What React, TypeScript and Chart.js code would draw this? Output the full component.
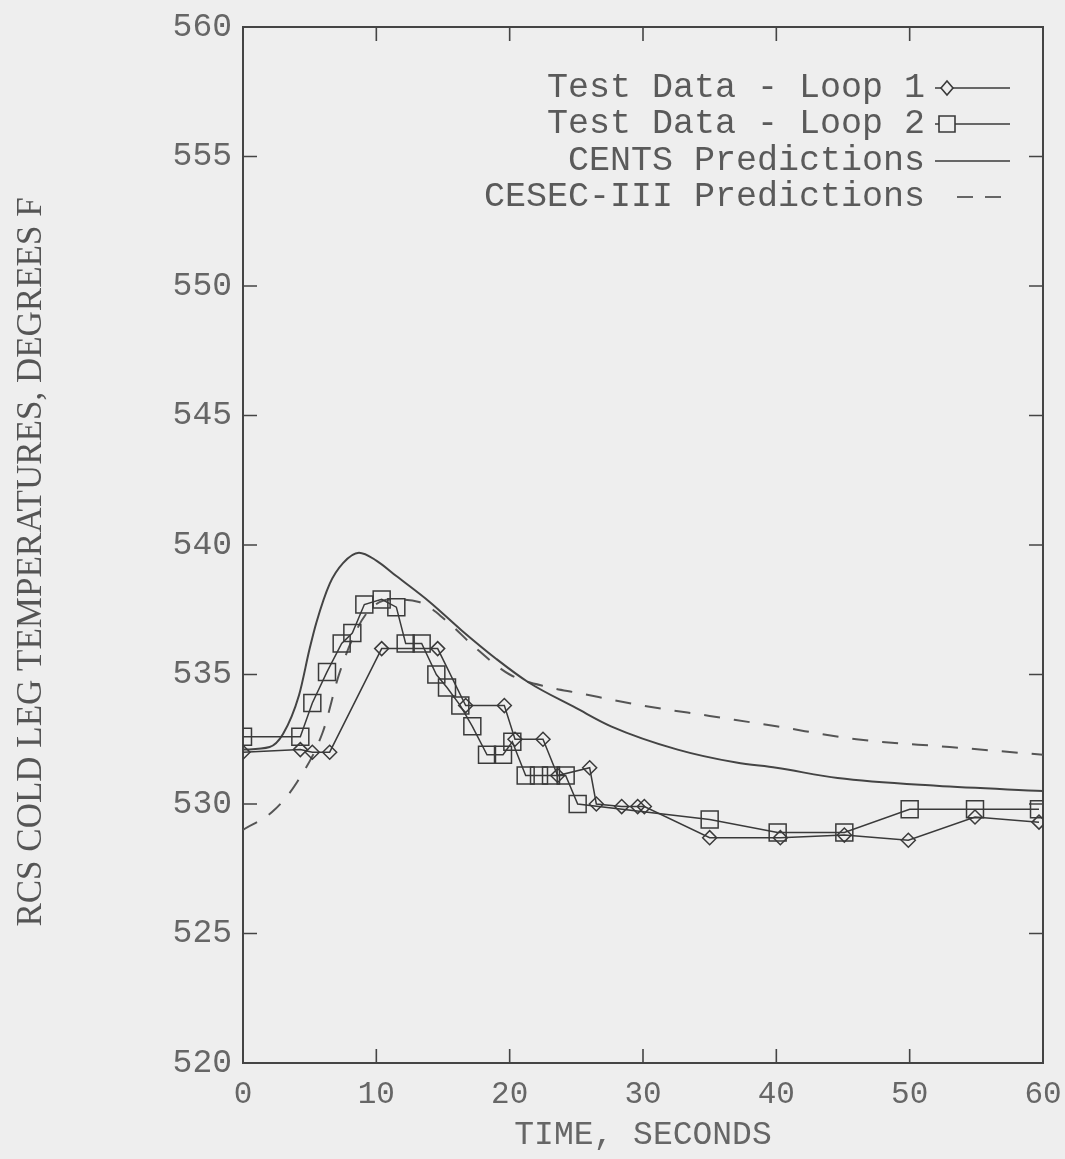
import React, { useEffect, useRef } from "react";
import { Chart, registerables } from "chart.js";

Chart.register(...registerables);

// ---- Data ----
const loop1Time = [0, 4.3, 5.2, 6.5, 10.4, 14.6, 16.7, 19.6, 20.4, 22.5, 23.6, 26.0, 26.5, 28.4, 29.6, 30.1, 35.0, 40.3, 45.1, 49.9, 54.9, 59.7];
const loop1Temp = [532.0, 532.1, 532.0, 532.0, 536.0, 536.0, 533.8, 533.8, 532.5, 532.5, 531.1, 531.4, 530.0, 529.9, 529.9, 529.9, 528.7, 528.7, 528.8, 528.6, 529.5, 529.3];

const loop2Time = [0, 4.3, 5.2, 6.3, 7.4, 8.2, 9.1, 10.4, 11.5, 12.2, 13.4, 14.5, 15.3, 16.3, 17.2, 18.3, 19.5, 20.2, 21.2, 22.2, 23.1, 24.2, 25.1, 35.0, 40.1, 45.1, 50.0, 54.9, 59.7];
const loop2Temp = [532.6, 532.6, 533.9, 535.1, 536.2, 536.6, 537.7, 537.9, 537.6, 536.2, 536.2, 535.0, 534.5, 533.8, 533.0, 531.9, 531.9, 532.4, 531.1, 531.1, 531.1, 531.1, 530.0, 529.4, 528.9, 528.9, 529.8, 529.8, 529.8];

const centsTime = [0, 2, 3, 4.2, 5, 5.5, 6.5, 7.5, 8.7, 10, 11.5, 14, 16.4, 19, 21.4, 25, 27.6, 32.6, 37, 40, 44.6, 52, 60];
const centsTemp = [532.1, 532.2, 532.7, 534.2, 536.0, 537.0, 538.5, 539.3, 539.7, 539.4, 538.8, 537.8, 536.7, 535.6, 534.7, 533.7, 533.0, 532.1, 531.6, 531.4, 531.0, 530.7, 530.5];

const cesecTime = [0, 2.2, 4, 6, 7.2, 8.5, 9.5, 11, 13.2, 15.2, 17.5, 20, 23, 25, 30, 35, 40, 46, 53, 60];
const cesecTemp = [529.0, 529.7, 530.8, 532.8, 535.0, 536.7, 537.5, 537.9, 537.8, 537.1, 536.0, 535.0, 534.5, 534.3, 533.8, 533.4, 533.0, 532.5, 532.2, 531.9];

const seriesNames = [
  "Test Data - Loop 1",
  "Test Data - Loop 2",
  "CENTS Predictions",
  "CESEC-III Predictions",
];

const xTitle = "TIME, SECONDS";
const yTitle = "RCS COLD LEG TEMPERATURES, DEGREES F";

const toPoints = (xs: number[], ys: number[]) => xs.map((x, i) => ({ x, y: ys[i] }));

const INK = "#3a3a3a";
const TEXT = "#666666";
const BG = "#eeeeee";

const framePlugin = {
  id: "framePlugin",
  beforeDraw(chart: any) {
    const { ctx, width, height } = chart;
    ctx.save();
    ctx.fillStyle = BG;
    ctx.fillRect(0, 0, width, height);
    ctx.restore();
  },
  beforeDatasetsDraw(chart: any) {
    const { ctx, chartArea: a, scales } = chart;
    ctx.save();
    ctx.strokeStyle = "#444444";
    ctx.lineWidth = 2;
    ctx.strokeRect(a.left, a.top, a.right - a.left, a.bottom - a.top);
    ctx.lineWidth = 1.6;
    const tl = 14;
    scales.y.ticks.forEach((t: any) => {
      const py = scales.y.getPixelForValue(t.value);
      ctx.beginPath();
      ctx.moveTo(a.left, py);
      ctx.lineTo(a.left + tl, py);
      ctx.moveTo(a.right, py);
      ctx.lineTo(a.right - tl, py);
      ctx.stroke();
    });
    scales.x.ticks.forEach((t: any) => {
      const px = scales.x.getPixelForValue(t.value);
      ctx.beginPath();
      ctx.moveTo(px, a.bottom);
      ctx.lineTo(px, a.bottom - tl);
      ctx.moveTo(px, a.top);
      ctx.lineTo(px, a.top + tl);
      ctx.stroke();
    });
    // y-axis title
    ctx.save();
    ctx.translate(32, (a.top + a.bottom) / 2 + 17);
    ctx.rotate(-Math.PI / 2);
    ctx.font = "35px 'Liberation Serif'";
    ctx.fillStyle = "#555555";
    ctx.textAlign = "center";
    ctx.textBaseline = "middle";
    ctx.fillText(yTitle, 0, 0);
    ctx.restore();
    ctx.restore();
  },
  afterDraw(chart: any) {
    const { ctx, chartArea: a } = chart;
    ctx.save();
    ctx.font = "35px 'Liberation Mono'";
    ctx.fillStyle = "#5a5a5a";
    ctx.textAlign = "right";
    ctx.textBaseline = "middle";
    const textRight = a.right - 118;
    const x0 = a.right - 108;
    const x1 = a.right - 33;
    const rows = [a.top + 61, a.top + 97, a.top + 134, a.top + 170];
    seriesNames.forEach((name, i) => {
      ctx.fillText(name, textRight, rows[i]);
    });
    ctx.strokeStyle = INK;
    ctx.lineWidth = 1.6;
    // Loop 1
    let y = rows[0];
    ctx.beginPath();
    ctx.moveTo(x0, y);
    ctx.lineTo(x1, y);
    ctx.stroke();
    const mx = x0 + 12;
    ctx.fillStyle = BG;
    ctx.beginPath();
    ctx.moveTo(mx - 6, y);
    ctx.lineTo(mx, y - 7);
    ctx.lineTo(mx + 6, y);
    ctx.lineTo(mx, y + 7);
    ctx.closePath();
    ctx.fill();
    ctx.stroke();
    // Loop 2
    y = rows[1];
    ctx.beginPath();
    ctx.moveTo(x0, y);
    ctx.lineTo(x1, y);
    ctx.stroke();
    ctx.beginPath();
    ctx.rect(mx - 8, y - 8, 16, 16);
    ctx.fill();
    ctx.stroke();
    // CENTS
    y = rows[2];
    ctx.beginPath();
    ctx.moveTo(x0, y);
    ctx.lineTo(x1, y);
    ctx.stroke();
    // CESEC
    y = rows[3];
    ctx.setLineDash([16, 12]);
    ctx.beginPath();
    ctx.moveTo(x0 + 22, y);
    ctx.lineTo(x1 - 8, y);
    ctx.stroke();
    ctx.restore();
  },
};

export default function App() {
  const canvasRef = useRef<HTMLCanvasElement | null>(null);

  useEffect(() => {
    if (!canvasRef.current) return;
    const chart = new Chart(canvasRef.current, {
      type: "line",
      data: {
        datasets: [
          {
            label: seriesNames[0],
            data: toPoints(loop1Time, loop1Temp),
            borderColor: INK,
            borderWidth: 1.5,
            pointStyle: "rectRot",
            pointRadius: 7,
            pointBorderWidth: 1.5,
            pointBorderColor: INK,
            pointBackgroundColor: "rgba(0,0,0,0)",
            tension: 0,
          },
          {
            label: seriesNames[1],
            data: toPoints(loop2Time, loop2Temp),
            borderColor: INK,
            borderWidth: 1.5,
            pointStyle: "rect",
            pointRadius: 12,
            pointBorderWidth: 1.5,
            pointBorderColor: INK,
            pointBackgroundColor: "rgba(0,0,0,0)",
            tension: 0,
          },
          {
            label: seriesNames[2],
            data: toPoints(centsTime, centsTemp),
            borderColor: "#444444",
            borderWidth: 2,
            pointRadius: 0,
            cubicInterpolationMode: "monotone",
          },
          {
            label: seriesNames[3],
            data: toPoints(cesecTime, cesecTemp),
            borderColor: "#555555",
            borderWidth: 2,
            borderDash: [16, 14],
            pointRadius: 0,
            cubicInterpolationMode: "monotone",
          },
        ],
      },
      options: {
        animation: false,
        responsive: false,
        maintainAspectRatio: false,
        layout: { padding: { top: 27, right: 22, left: 0, bottom: 0 } },
        scales: {
          x: {
            type: "linear",
            min: 0,
            max: 60,
            ticks: {
              stepSize: 10,
              color: TEXT,
              padding: 13,
              font: { family: "'Liberation Mono'", size: 31 },
            },
            grid: { display: false, drawTicks: false },
            border: { display: false },
            title: {
              display: true,
              text: xTitle,
              color: TEXT,
              font: { family: "'Liberation Mono'", size: 33 },
              padding: { top: 0, bottom: 4 },
            },
            afterFit: (s: any) => {
              s.height = 96;
              s.paddingLeft = 0;
              s.paddingRight = 0;
            },
          },
          y: {
            type: "linear",
            min: 520,
            max: 560,
            ticks: {
              stepSize: 5,
              color: TEXT,
              padding: 11,
              font: { family: "'Liberation Mono'", size: 33 },
            },
            grid: { display: false, drawTicks: false },
            border: { display: false },
            title: { display: false },
            afterFit: (s: any) => {
              s.width = 243;
              s.paddingTop = 0;
              s.paddingBottom = 0;
            },
          },
        },
        plugins: {
          legend: { display: false },
          tooltip: { enabled: false },
        },
      },
      plugins: [framePlugin],
    });
    return () => chart.destroy();
  }, []);

  return (
    <div style={{ position: "fixed", left: 0, top: 0, width: 1065, height: 1159, background: BG }}>
      <canvas ref={canvasRef} width={1065} height={1159} style={{ width: 1065, height: 1159, display: "block" }} />
    </div>
  );
}
